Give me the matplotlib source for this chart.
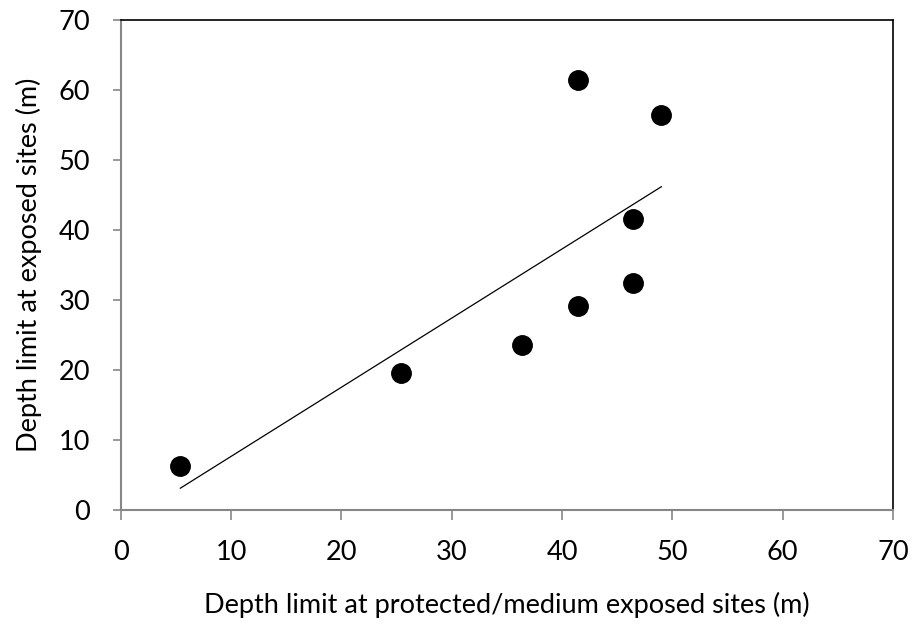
import matplotlib
matplotlib.use("Agg")
import matplotlib.pyplot as plt
import numpy as np

# depth limits (m)
protected_depth = [5.4, 25.4, 36.4, 41.4, 41.4, 46.4, 46.4, 49.0]
exposed_depth = [6.3, 19.6, 23.6, 29.1, 61.4, 32.5, 41.6, 56.4]
ticks = [0, 10, 20, 30, 40, 50, 60, 70]

plt.rcParams['font.family'] = ['Lato', 'DejaVu Sans']

fig = plt.figure(figsize=(9.15, 6.28), dpi=100)
ax = fig.add_axes([0.132, 0.188, 0.844, 0.780])

ax.plot(protected_depth, exposed_depth, 'o', color='black', markersize=14, zorder=3)

# linear trendline over the data range
slope, intercept = np.polyfit(protected_depth, exposed_depth, 1)
xs = np.array([min(protected_depth), max(protected_depth)])
ax.plot(xs, slope * xs + intercept, color='black', linewidth=0.9)

ax.set_xlim(0, 70)
ax.set_ylim(0, 70)
ax.set_xticks(ticks)
ax.set_yticks(ticks)
ax.tick_params(direction='out', width=1.2, color='#868686', labelsize=19.5)
ax.tick_params(axis='x', length=7, pad=15)
ax.tick_params(axis='y', length=6, pad=16)

for side in ['left', 'bottom']:
    ax.spines[side].set_color('#868686')
    ax.spines[side].set_linewidth(1.5)
for side in ['top', 'right']:
    ax.spines[side].set_color('black')
    ax.spines[side].set_linewidth(1.2)

ax.set_xlabel("Depth limit at protected/medium exposed sites (m)", fontsize=19.5, labelpad=19)
ax.set_ylabel("Depth limit at exposed sites (m)", fontsize=19.5, labelpad=12)

fig.savefig("out.png", dpi=100)
